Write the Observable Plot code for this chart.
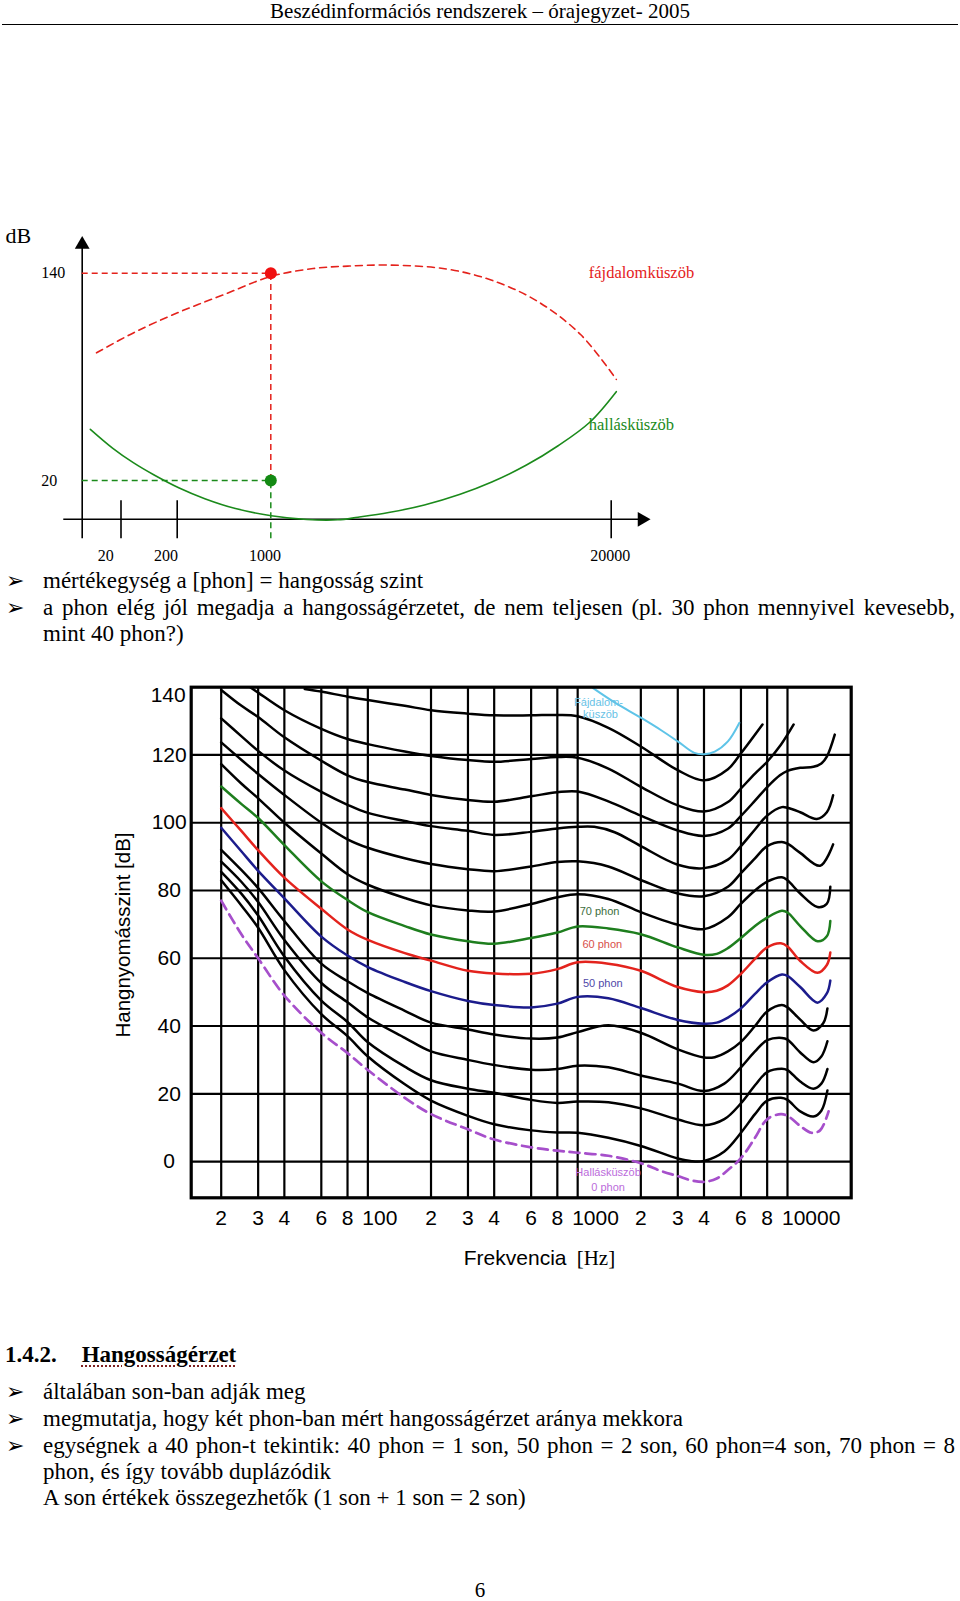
<!DOCTYPE html>
<html><head><meta charset="utf-8">
<script src="https://cdn.jsdelivr.net/npm/d3@7/dist/d3.min.js"></script>
<script src="https://cdn.jsdelivr.net/npm/@observablehq/plot@0.6/dist/plot.umd.min.js"></script>
<style>
html,body{margin:0;padding:0;background:#fff;}
#page{position:relative;width:960px;height:1601px;overflow:hidden;font-family:"Liberation Serif","Times New Roman",serif;color:#000;}
.hdr{position:absolute;left:0;width:960px;top:-1px;text-align:center;font-size:21px;line-height:24px;white-space:nowrap;}
.rule{position:absolute;left:2px;width:956px;top:24px;height:0;border-top:1.5px solid #000;}
.ln{position:absolute;left:43px;font-size:23px;line-height:27px;white-space:nowrap;}
.just{width:912px;text-align:justify;text-align-last:justify;white-space:normal;}
.bul{position:absolute;left:6px;font-family:"DejaVu Sans";font-size:22px;line-height:27px;}
.h{position:absolute;font-size:23px;line-height:27px;font-weight:bold;white-space:nowrap;}
.u{text-decoration:underline dotted #7f1f1f;text-decoration-thickness:2px;text-underline-offset:3px;}
.abs{position:absolute;left:0;width:960px;}
.abs svg{max-width:none !important;}
.pg{position:absolute;left:0;width:960px;top:1580px;text-align:center;font-size:21px;line-height:20px;}
#err{position:absolute;left:10px;top:40px;width:900px;color:#c00;font:14px monospace;white-space:pre-wrap;}
</style></head>
<body>
<div id="page">
  <div class="hdr">Beszédinformációs rendszerek – órajegyzet- 2005</div>
  <div class="rule"></div>
  <div id="schem" class="abs" style="top:200px;height:370px"></div>
  <div class="bul" style="top:567px">➢</div>
  <div class="ln" style="top:567px">mértékegység a [phon] = hangosság szint</div>
  <div class="bul" style="top:593.7px">➢</div>
  <div class="ln just" style="top:593.7px">a phon elég jól megadja a hangosságérzetet, de nem teljesen (pl. 30 phon mennyivel kevesebb,</div>
  <div class="ln" style="top:620.2px">mint 40 phon?)</div>
  <div id="chart" class="abs" style="top:660px;height:620px"></div>
  <div class="h" style="top:1341px;left:5px">1.4.2.</div>
  <div class="h" style="top:1341px;left:81.7px"><span class="u">Hangosságérzet</span></div>
  <div class="bul" style="top:1378px">➢</div>
  <div class="ln" style="top:1378px">általában son-ban adják meg</div>
  <div class="bul" style="top:1404.6px">➢</div>
  <div class="ln" style="top:1404.6px">megmutatja, hogy két phon-ban mért hangosságérzet aránya mekkora</div>
  <div class="bul" style="top:1432px">➢</div>
  <div class="ln just" style="top:1432px">egységnek a 40 phon-t tekintik: 40 phon = 1 son, 50 phon = 2 son, 60 phon=4 son, 70 phon = 8</div>
  <div class="ln" style="top:1457.7px">phon, és így tovább duplázódik</div>
  <div class="ln" style="top:1484.3px">A son értékek összegezhetők (1 son + 1 son = 2 son)</div>
  <div class="pg">6</div>
  <div id="err"></div>
</div>
<script>
function report(msg){ document.getElementById("err").textContent += msg + "\n"; }
window.addEventListener("error", e => report("ERR: " + e.message));
</script>
<script>
// ================= Schematic chart data =================
const schemTickHz = [20, 200, 20000];
const schemLabelHz = [20, 200, 1000, 20000];
const schemLabels = ["20", "200", "1000", "20000"];
const schemYTicks = [140, 20];
const schemPainHz = [7.4, 62.5, 217.5, 598.7, 1028, 3364, 5301, 7580, 10827, 13335, 15841, 18290, 20284];
const schemPainDb = [93.9, 105.7, 117.5, 127.6, 138.2, 142.7, 144.1, 144.7, 142.4, 135.9, 124.0, 104.5, 78.5];
const schemHearHz = [4.2, 15.8, 59.3, 124.7, 217.5, 436, 698, 1028, 3022, 4732, 5871, 7580, 9574, 11568, 13335, 15271, 17037, 18803, 20284];
const schemHearDb = [49.6, 38.6, 30.3, 23.3, 15.6, 9.4, 3.7, -0.4, -2.6, -2.8, -1.3, 1.4, 5.8, 12.0, 19.1, 28.9, 40.1, 53.7, 71.4];
const schemPainPoint = [1000, 140];
const schemHearPoint = [1000, 20];
const schemCurveNames = ["fájdalomküszöb", "hallásküszöb"];

// ================= Equal-loudness contour data [Hz, dB] =================
const phon0 = [[20,77],[25,67],[30,60],[40,49],[60,38],[80,32],[100,27],[150,18.8],[200,14],[300,9.5],[400,6.5],[600,4.2],[800,3.2],[1000,2.6],[1400,1.7],[2000,-0.5],[2500,-2.8],[3000,-4.3],[3500,-5.6],[4000,-6],[4600,-5],[5200,-2.5],[6000,1],[7000,7],[8000,12.5],[9300,14],[10000,13.5],[11500,10.5],[13000,8.5],[14300,9.2],[15700,14.8]];
const phon10 = [[20,83],[25,75.5],[30,69],[40,56.5],[60,43.5],[80,37],[100,31],[150,22.8],[200,18],[300,13.5],[400,11],[600,9.2],[800,8.6],[1000,8.5],[1400,7],[2000,4.6],[3000,0.9],[3500,0.1],[4000,0.2],[5000,3],[6000,8.5],[7000,14],[8000,18],[9300,18.8],[10000,18.2],[11500,14.8],[13300,13.3],[14500,15],[15500,21]];
const phon20 = [[20,85.5],[25,79],[30,72.6],[40,60.5],[60,47.5],[80,41.2],[100,35.2],[150,28],[200,24],[300,21.5],[400,20.3],[600,18.2],[800,17.3],[1000,17.7],[1400,17.5],[2000,15.7],[3000,12.4],[4000,10.7],[5000,12.5],[6000,17.2],[7000,22.5],[8000,26.4],[9400,27.4],[10000,27],[11500,23.6],[13300,21.5],[14500,23],[15500,27.3]];
const phon30 = [[20,88.5],[25,82.5],[30,76.6],[40,65.4],[60,52.7],[80,47],[100,42.5],[150,36.5],[200,32.5],[300,30],[400,28.5],[600,27.1],[800,27.3],[1000,28.3],[1400,27.8],[2000,25.4],[3000,23],[4000,20.8],[5000,23],[6000,27.8],[7000,32.5],[8000,35.8],[9400,36.5],[10000,36],[11500,32.2],[13300,29.3],[14500,31],[15500,35.5]];
const phon40 = [[20,92],[25,86],[30,80.7],[40,71],[60,58.4],[80,53.2],[100,49.7],[150,44.5],[200,41],[300,39],[400,37.5],[600,36.3],[800,36.6],[1000,38.2],[1400,40.2],[2000,38],[3000,33.1],[4000,30.7],[4500,30.8],[5200,32.5],[6000,35.3],[7000,40],[8000,44.3],[9400,46.2],[10000,45.5],[11500,41.9],[13300,38.7],[14800,40.8],[15500,45.2]];
const phon50 = [[20,98.5],[25,91.5],[30,85.8],[40,77.7],[60,66.4],[80,60.8],[100,57.4],[150,53],[200,50.3],[300,47.4],[400,46.2],[600,45.5],[800,46.6],[1000,48.6],[1400,48.2],[2000,45.3],[3000,41.8],[4000,40.7],[4600,41],[5200,42.5],[6000,45.2],[7000,49.5],[8000,52.9],[9400,55.2],[10000,54.8],[11500,51.5],[13900,46.9],[15400,49.6],[16000,53.4]];
const phon60 = [[20,104.3],[25,97.5],[30,91.9],[40,83.8],[60,74.6],[80,68.5],[100,65.4],[150,61.5],[200,59.3],[300,56.3],[400,55.5],[600,55.4],[800,56.8],[1000,58.8],[1400,58.4],[2000,56.3],[3000,51.5],[4000,50],[4600,50.4],[5200,52],[6000,55.4],[7000,59.8],[8000,63.2],[9300,64.4],[10000,63.5],[11500,59.2],[13900,55.7],[15400,58],[16000,61.7]];
const phon70 = [[20,110.7],[25,105.5],[30,101.4],[40,93.4],[60,82.7],[80,77.2],[100,73.6],[150,69.5],[200,67],[300,65],[400,64.3],[600,66],[800,67.6],[1000,69.4],[1400,68.8],[2000,67.1],[3000,63.2],[4000,61],[4600,61.3],[5200,63],[6000,66],[7000,69.5],[8000,72],[9400,74],[10000,73.5],[11500,69.5],[13900,65],[15400,66.5],[16000,71]];
const phon80 = [[20,117.3],[25,111.5],[30,107.2],[40,100],[60,90.9],[80,84.8],[100,81.7],[150,77.8],[200,75.6],[300,74.1],[400,73.8],[600,76],[800,78],[1000,78.9],[1400,77.5],[2000,73.6],[3000,69.9],[4000,68.6],[5200,72.1],[6000,76.1],[7000,80],[8000,82.6],[9400,83.9],[10000,83],[11500,79.1],[13900,75.1],[15400,76.1],[16000,81.1]];
const phon90 = [[20,123.7],[25,118.5],[30,114.4],[40,108.2],[60,100],[80,95.1],[100,92.6],[150,89.5],[200,87.8],[300,86.3],[400,85.7],[600,87.1],[800,88.4],[1000,88.6],[1400,87.1],[2000,83.1],[3000,79.1],[4000,78.3],[5200,81.1],[6000,85.1],[7000,89.5],[8000,93.1],[9400,94.3],[10000,93.8],[11500,91.1],[14300,87.3],[16500,93.6]];
const phon100 = [[20,130.8],[25,125.5],[30,121.2],[40,115.4],[60,109.1],[80,105.3],[100,102.9],[150,100.5],[200,99],[300,97.6],[400,96.4],[600,97.3],[800,98.3],[1000,98.8],[1200,98.8],[1500,97.2],[2000,93.1],[3000,87.6],[4000,86.6],[5200,89.1],[6000,93.1],[7000,98],[8000,102.1],[9400,104.6],[10000,104.4],[11500,103.1],[13800,101.1],[15400,103.1],[16500,108.1]];
const phon110 = [[20,139.2],[25,134.5],[30,131.2],[40,125.2],[60,118.3],[80,114],[100,112],[150,109.8],[200,108.2],[300,106.7],[400,106.2],[600,107.8],[800,109],[1000,109.2],[1400,106.3],[2000,102.1],[3000,97.7],[4000,96.1],[5200,98.3],[6000,102],[7000,106.5],[8000,110.5],[9200,114],[10000,115.3],[11500,116.2],[13300,116.5],[14500,117.5],[15400,119.5],[16800,126]];
const phon120 = [[27.5,140],[30,138.4],[40,133.2],[60,127.7],[80,124.7],[100,123.2],[150,121],[200,119.7],[300,118.5],[400,118],[600,118.8],[800,119.4],[1000,119.2],[1400,116],[2000,110.6],[3000,105.1],[4000,103.3],[5200,106.1],[6000,110.1],[7000,114.5],[8000,118],[9300,123],[10700,129]];
const phon130 = [[50,139.5],[60,138.7],[80,137.2],[100,136.2],[150,134.5],[200,133.2],[300,132.2],[400,131.7],[600,131.7],[800,131.8],[1000,131.4],[1400,128],[2000,122.5],[3000,115.5],[4000,112.5],[5200,115.8],[6000,120.5],[7600,129]];
const painThreshold = [[1180,139.8],[1500,135.5],[2000,131],[2500,127.3],[3000,124],[3600,120.6],[4000,120.2],[4500,121],[5200,124],[5900,129.5]];

const gridFreqs = [20,30,40,60,80,100,200,300,400,600,800,1000,2000,3000,4000,6000,8000,10000];
const xTickLabels = ["2","3","4","6","8","100","2","3","4","6","8","1000","2","3","4","6","8","10000"];
const gridDb = [0,20,40,60,80,100,120];
const yTickValues = [0,20,40,60,80,100,120,140];
const curveLabels = ["Fájdalom-","küszöb","70 phon","60 phon","50 phon","Hallásküszöb","0 phon"];
const curveLabelHz = [1257,1284,1271,1310,1318,1396,1396];
const curveLabelDb = [135.6,131.9,73.9,64.0,52.7,-3.3,-7.6];
const xTitle = "Frekvencia";
const xUnit = "[Hz]";
const yTitle = "Hangnyomásszint [dB]";

// ================= styles =================
const RED = "#e4221c", GREEN = "#1b8a1b";
const serif = "'Liberation Serif','Times New Roman',serif";
const sans = "'Liberation Sans',Arial,sans-serif";
const schemLabelDx = [-15.3,-11.3,-5.8,-1];
const AX = -2.5, AXLOW = -13.7, TICKTOP = 8.2, YTIP = 160.7, XLEFT = -9.5, XTIP = 22110;

function place(svg, id) {
  svg.style.position = "absolute"; svg.style.left = "0"; svg.style.top = "0";
  svg.style.maxWidth = "none"; svg.style.height = svg.getAttribute("height") + "px";
  document.getElementById(id).appendChild(svg);
}

try {
const schem = Plot.plot({
  width: 960, height: 370,
  x: {type: "linear", domain: [0, 20, 200, 1000, 20000], range: [81.7, 120.5, 176.7, 270.3, 610.7], axis: null},
  y: {domain: [AX, 140], range: [318.8, 72.7], axis: null},
  style: {fontFamily: serif, background: "transparent", overflow: "visible"},
  marks: [
    Plot.ruleX([0], {y1: AXLOW, y2: YTIP - 5, stroke: "#000", strokeWidth: 1.6}),
    Plot.ruleY([AX], {x1: XLEFT, x2: XTIP - 400, stroke: "#000", strokeWidth: 1.6}),
    Plot.dot([[0, YTIP]], {x: d => d[0], y: d => d[1], symbol: "triangle", r: 5.5, fill: "#000", stroke: "none", dy: 7}),
    Plot.dot([[XTIP, AX]], {x: d => d[0], y: d => d[1], symbol: "triangle", r: 5.5, rotate: 90, fill: "#000", stroke: "none", dx: -7}),
    Plot.ruleX(schemTickHz, {y1: AXLOW, y2: TICKTOP, stroke: "#000", strokeWidth: 1.6}),
    Plot.ruleY([schemPainPoint[1]], {x1: 0, x2: schemPainPoint[0], stroke: RED, strokeWidth: 1.5, strokeDasharray: "6,4"}),
    Plot.ruleX([schemPainPoint[0]], {y1: schemHearPoint[1], y2: schemPainPoint[1], stroke: RED, strokeWidth: 1.5, strokeDasharray: "6,4"}),
    Plot.ruleY([schemHearPoint[1]], {x1: 0, x2: schemHearPoint[0], stroke: GREEN, strokeWidth: 1.5, strokeDasharray: "6,4"}),
    Plot.ruleX([schemHearPoint[0]], {y1: AXLOW, y2: schemHearPoint[1], stroke: GREEN, strokeWidth: 1.5, strokeDasharray: "6,4"}),
    Plot.line(schemPainHz.map((f, i) => [f, schemPainDb[i]]), {x: d => d[0], y: d => d[1], stroke: RED, strokeWidth: 1.6, strokeDasharray: "7,5", curve: "catmull-rom"}),
    Plot.line(schemHearHz.map((f, i) => [f, schemHearDb[i]]), {x: d => d[0], y: d => d[1], stroke: GREEN, strokeWidth: 1.6, curve: "catmull-rom"}),
    Plot.dot([schemPainPoint], {x: d => d[0], y: d => d[1], r: 6, fill: "#f01010", stroke: "none"}),
    Plot.dot([schemHearPoint], {x: d => d[0], y: d => d[1], r: 6, fill: "#138a13", stroke: "none"}),
    ...schemLabels.map((t, i) => Plot.text([t], {x: () => schemLabelHz[i], y: () => AX, dy: 36.8, dx: schemLabelDx[i], text: d => d, fontSize: 16, fill: "#000"})),
    Plot.text(schemYTicks, {x: () => 0, y: d => d, text: d => String(d), dx: -41, textAnchor: "start", fontSize: 16, fill: "#000"}),
    Plot.text(["dB"], {x: () => 0, y: () => YTIP, dx: -76.7, dy: -1, textAnchor: "start", text: d => d, fontSize: 22, fill: "#000"}),
    Plot.text([schemCurveNames[0]], {x: () => 18749, y: () => 140, textAnchor: "start", text: d => d, fontSize: 16.5, fill: RED}),
    Plot.text([schemCurveNames[1]], {x: () => 18749, y: () => 52.5, textAnchor: "start", text: d => d, fontSize: 16.5, fill: GREEN})
  ]
});
place(schem, "schem");
} catch (e) { report("schem: " + e.message); }

// ================= Big chart =================
try {
const contours = [
  {data: phon130, stroke: "#000"}, {data: phon120, stroke: "#000"}, {data: phon110, stroke: "#000"},
  {data: phon100, stroke: "#000"}, {data: phon90, stroke: "#000"}, {data: phon80, stroke: "#000"},
  {data: phon70, stroke: "#1e7e1e"}, {data: phon60, stroke: "#e3231d"}, {data: phon50, stroke: "#1c1c8c"},
  {data: phon40, stroke: "#000"}, {data: phon30, stroke: "#000"}, {data: phon20, stroke: "#000"},
  {data: phon10, stroke: "#000"}, {data: phon0, stroke: "#a64fcb", dash: "10,6", width: 2.7},
  {data: painThreshold, stroke: "#5ec4e8", width: 2}
];
const labelColors = ["#68c2e6","#68c2e6","#3c6e3c","#d8504a","#5048a8","#bb6cdb","#bb6cdb"];
const minorIdx = gridFreqs.map((f, i) => i).filter(i => ![100, 1000, 10000].includes(gridFreqs[i]));
const decadeIdx = gridFreqs.map((f, i) => i).filter(i => [100, 1000, 10000].includes(gridFreqs[i]));

const chart = Plot.plot({
  width: 960, height: 620,
  marginLeft: 190.7, marginRight: 109.3, marginTop: 26.7, marginBottom: 82.7,
  x: {type: "log", domain: [14.39, 20120], axis: null},
  y: {domain: [-10.7, 140], axis: null},
  style: {fontFamily: sans, background: "transparent", overflow: "visible"},
  marks: [
    Plot.ruleX(gridFreqs, {stroke: "#000", strokeWidth: 2.2}),
    Plot.ruleY(gridDb, {stroke: "#000", strokeWidth: 2.2}),
    ...contours.map(c => Plot.line(c.data, {x: d => d[0], y: d => d[1], stroke: c.stroke, strokeWidth: c.width || 2.5, strokeDasharray: c.dash, curve: "catmull-rom"})),
    Plot.frame({stroke: "#000", strokeWidth: 3.2}),
    Plot.text(minorIdx, {x: i => gridFreqs[i], text: i => xTickLabels[i], frameAnchor: "bottom", lineAnchor: "middle", dy: 20.7, fontSize: 21, fill: "#000"}),
    Plot.text(decadeIdx, {x: i => gridFreqs[i], text: i => xTickLabels[i], frameAnchor: "bottom", lineAnchor: "middle", dy: 20.7, dx: -5.5, textAnchor: "start", fontSize: 21, fill: "#000"}),
    Plot.text(yTickValues.filter(v => v < 140), {y: d => d, text: d => String(d), frameAnchor: "left", lineAnchor: "middle", dx: -22, textAnchor: "middle", fontSize: 21, fill: "#000"}),
    Plot.text(yTickValues.filter(v => v === 140), {y: d => d, text: d => String(d), frameAnchor: "left", lineAnchor: "middle", dx: -23, dy: 8, textAnchor: "middle", fontSize: 21, fill: "#000"}),
    Plot.text([yTitle], {frameAnchor: "left", textAnchor: "middle", lineAnchor: "middle", dx: -68, dy: -7.5, rotate: -90, text: d => d, fontSize: 20.5, fill: "#000"}),
    Plot.text([xTitle], {x: () => 1000, frameAnchor: "bottom", lineAnchor: "middle", dy: 60, dx: -11.2, textAnchor: "end", text: d => d, fontSize: 21, fill: "#000"}),
    Plot.text([xUnit], {x: () => 1000, frameAnchor: "bottom", lineAnchor: "middle", dy: 60, dx: -1, textAnchor: "start", text: d => d, fontSize: 21, fontFamily: serif, fill: "#000"}),
    Plot.text(curveLabels.map((t, i) => i), {x: i => curveLabelHz[i], y: i => curveLabelDb[i], text: i => curveLabels[i], fill: i => labelColors[i], fontSize: 11})
  ]
});
place(chart, "chart");
} catch (e) { report("chart: " + e.message); }
</script>
</body></html>
